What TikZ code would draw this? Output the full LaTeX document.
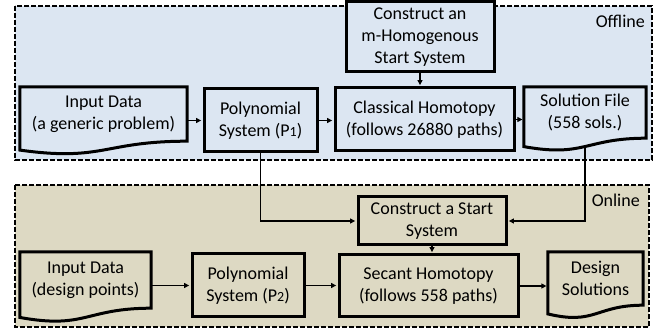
\documentclass[tikz,border=0pt]{standalone}
\usepackage{fontspec}
\setmainfont{Carlito}
\usetikzlibrary{arrows.meta,calc}
\pgfdeclarelayer{bg}
\pgfsetlayers{bg,main}
\definecolor{offbg}{RGB}{220,230,242}
\definecolor{onbg}{RGB}{221,217,195}
\newcommand\txtfont{\fontsize{18}{22}\selectfont}
\newcommand\sdig[1]{{\fontsize{14}{14}\selectfont #1}}
\tikzset{
  box/.style={draw=black, line width=3pt, align=center, inner sep=0pt, font=\txtfont},
  docnode/.style={align=center, inner sep=0pt, font=\txtfont},
  docline/.style={draw=black, line width=3pt, line join=miter},
  panel/.style={draw=black, line width=2.3pt, dash pattern=on 5pt off 2pt},
  conn/.style={draw=black, line width=1.1pt, shorten >=1.4pt, -{Triangle[length=5pt,width=5pt]}},
  tag/.style={font=\txtfont, anchor=base east, inner sep=0pt}
}
% #1 node name, #2 fill, #3 height of the straight part
\newcommand\docpath[3]{%
  \draw[docline, fill=#2] (#1.north west) -- (#1.north east) -- (#1.south east)
    .. controls (#1.south) and ($(#1.south)+(0,#3*0.381)$) ..
    ($(#1.south west)+(0,#3*0.1646)$) -- cycle;}
\begin{document}
\begin{tikzpicture}[x=1pt,y=-1pt]
\useasboundingbox (0,0) rectangle (662,331);
% panels
\begin{pgfonlayer}{bg}
\draw[panel, fill=offbg] (15,6) rectangle (652,160);
\draw[panel, fill=onbg] (15,185) rectangle (649,327);
\end{pgfonlayer}
\node[tag] (offl) at (645,28) {Offline};
\node[tag] (onl) at (640,207) {Online};
% offline nodes
\node[box, fill=offbg, minimum width=113pt, minimum height=63pt] (polyA) at (260.5,120.5) {Polynomial\\System (P\sdig{1})};
\node[box, fill=offbg, minimum width=179pt, minimum height=63pt] (classA) at (424.5,119.5) {Classical Homotopy\\(follows 26880 paths)};
\node[box, fill=offbg, minimum width=148pt, minimum height=70pt] (mhom) at (420,37) {Construct an\\m-Homogenous\\Start System};
\node[docnode, minimum width=167pt, minimum height=54pt] (inA) at (103.5,114) {Input Data\\(a generic problem)};
\node[docnode, minimum width=122pt, minimum height=51pt] (solA) at (585,112.5) {Solution File\\(558 sols.)};
% online nodes
\node[box, fill=onbg, minimum width=112pt, minimum height=63pt] (polyB) at (248,285.5) {Polynomial\\System (P\sdig{2})};
\node[box, fill=onbg, minimum width=179pt, minimum height=62pt] (secB) at (428.5,286) {Secant Homotopy\\(follows 558 paths)};
\node[box, fill=onbg, minimum width=148pt, minimum height=48pt] (startB) at (432,221) {Construct a Start\\System};
\node[docnode, minimum width=131pt, minimum height=56pt] (inB) at (85.5,280) {Input Data\\(design points)};
\node[docnode, minimum width=95pt, minimum height=53pt] (desB) at (595.5,278.5) {Design\\Solutions};
% document outlines (under the texts)
\begin{pgfonlayer}{bg}
\docpath{inA}{offbg}{54}
\docpath{solA}{offbg}{51}
\docpath{inB}{onbg}{56}
\docpath{desB}{onbg}{53}
\end{pgfonlayer}
\coordinate (solAw) at ($(solA.south)+(0,9.8)$);
% connectors
\draw[conn] (inA.east |- polyA) -- (polyA.west);
\draw[conn] (polyA.east) -- (polyA.east -| classA.west);
\draw[conn] (classA.east) -- (classA.east -| solA.west);
\draw[conn] (mhom.south) -- (mhom.south |- classA.north);
\draw[conn] (polyA.south) |- (startB.west);
\draw[conn] (solAw) |- (startB.east);
\draw[conn] (startB.south) -- (startB.south |- secB.north);
\draw[conn] (inB.east |- polyB) -- (polyB.west);
\draw[conn] (polyB.east) -- (polyB.east -| secB.west);
\draw[conn] (secB.east) -- (secB.east -| desB.west);
\end{tikzpicture}
\end{document}
